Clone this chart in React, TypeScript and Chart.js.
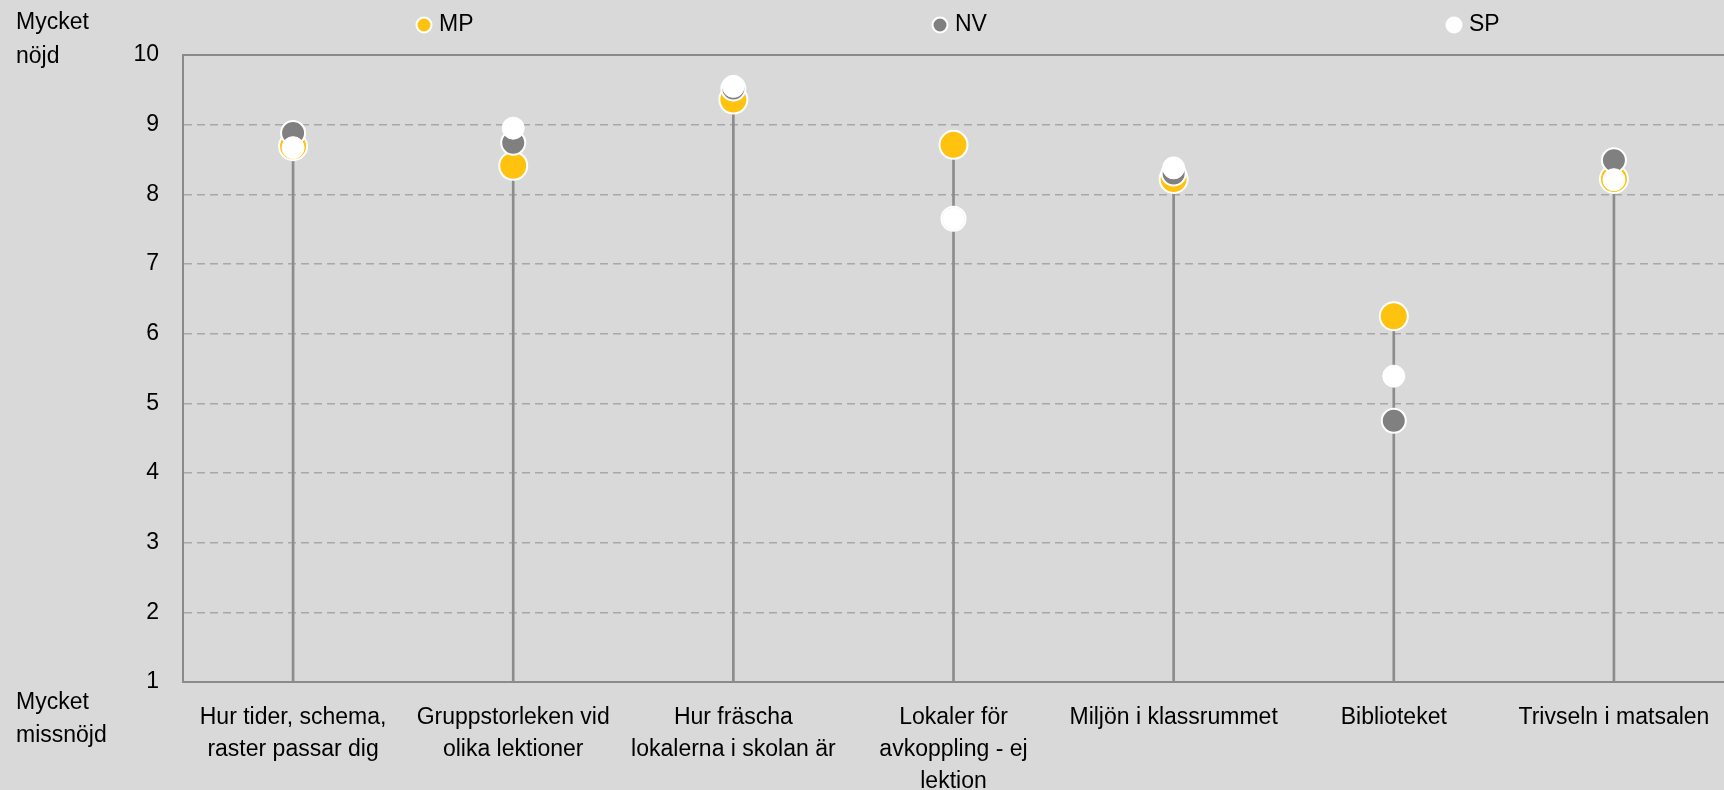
import React, { useEffect, useRef } from 'react';
import { Chart, registerables } from 'chart.js';

Chart.register(...registerables);

// ---- Data ----
const categories: string[][] = [
  ['Hur tider, schema,', 'raster passar dig'],
  ['Gruppstorleken vid', 'olika lektioner'],
  ['Hur fräscha', 'lokalerna i skolan är'],
  ['Lokaler för', 'avkoppling - ej', 'lektion'],
  ['Miljön i klassrummet'],
  ['Biblioteket'],
  ['Trivseln i matsalen'],
];
const seriesNames = ['MP', 'NV', 'SP'];
const mpValues = [8.69, 8.41, 9.36, 8.71, 8.22, 6.25, 8.22];
const nvValues = [8.88, 8.74, 9.52, 7.65, 8.30, 4.75, 8.49];
const spValues = [8.67, 8.95, 9.55, 7.65, 8.38, 5.39, 8.21];
const yMin = 1;
const yMax = 10;
const topAxisNote = ['Mycket', 'nöjd'];
const bottomAxisNote = ['Mycket', 'missnöjd'];

// ---- Styles ----
const FONT = '"Liberation Sans", Arial, sans-serif';
const FONT_SIZE = 23;
const COLORS = { MP: '#ffc20e', NV: '#808080', SP: '#ffffff' };
const BG = '#d9d9d9';
const AXIS_COLOR = '#8a8a8a';
const GRID_COLOR = '#a8a8a8';
const STEM_COLOR = '#8c8c8c';
const LEGEND_X = [424, 940, 1454];
const LEGEND_Y = 25;

const decorPlugin = {
  id: 'decor',
  beforeDatasetsDraw(chart: any) {
    const { ctx, chartArea } = chart;
    ctx.save();
    ctx.strokeStyle = AXIS_COLOR;
    ctx.lineWidth = 2;
    ctx.beginPath();
    ctx.moveTo(chartArea.left, chartArea.top);
    ctx.lineTo(chart.width, chartArea.top);
    ctx.stroke();
    ctx.restore();
  },
  afterDraw(chart: any) {
    const { ctx } = chart;
    ctx.save();
    ctx.font = `${FONT_SIZE}px ${FONT}`;
    ctx.fillStyle = '#000';
    ctx.textAlign = 'left';
    ctx.textBaseline = 'alphabetic';
    ctx.fillText(topAxisNote[0], 16, 29);
    ctx.fillText(topAxisNote[1], 16, 63);
    ctx.fillText(bottomAxisNote[0], 16, 709);
    ctx.fillText(bottomAxisNote[1], 16, 742);

    // legend
    const cols = [COLORS.MP, COLORS.NV, COLORS.SP];
    seriesNames.forEach((name, i) => {
      const x = LEGEND_X[i];
      ctx.beginPath();
      ctx.arc(x, LEGEND_Y, 7.5, 0, Math.PI * 2);
      ctx.fillStyle = cols[i];
      ctx.fill();
      ctx.lineWidth = 2;
      ctx.strokeStyle = '#ffffff';
      ctx.stroke();
      ctx.fillStyle = '#000';
      ctx.textBaseline = 'middle';
      ctx.fillText(name, x + 15, LEGEND_Y);
    });
    ctx.restore();
  },
};

export default function App() {
  const canvasRef = useRef<HTMLCanvasElement | null>(null);

  useEffect(() => {
    if (!canvasRef.current) return;
    const stems = categories.map((_, i) => [yMin, Math.max(mpValues[i], nvValues[i], spValues[i])]);
    const chart = new Chart(canvasRef.current, {
      type: 'bar',
      data: {
        labels: categories,
        datasets: [
          {
            type: 'line',
            label: seriesNames[2],
            data: spValues,
            showLine: false,
            pointRadius: 11,
            pointHoverRadius: 11,
            pointBorderWidth: 1,
            pointBackgroundColor: COLORS.SP,
            pointBorderColor: '#ffffff',
            clip: false,
            order: 0,
          } as any,
          {
            type: 'line',
            label: seriesNames[1],
            data: nvValues,
            showLine: false,
            pointRadius: 12,
            pointHoverRadius: 12,
            pointBorderWidth: 2,
            pointBackgroundColor: COLORS.NV,
            pointBorderColor: '#ffffff',
            clip: false,
            order: 1,
          } as any,
          {
            type: 'line',
            label: seriesNames[0],
            data: mpValues,
            showLine: false,
            pointRadius: 14,
            pointHoverRadius: 14,
            pointBorderWidth: 2,
            pointBackgroundColor: COLORS.MP,
            pointBorderColor: '#ffffff',
            clip: false,
            order: 2,
          } as any,
          {
            type: 'bar',
            label: 'stem',
            data: stems as any,
            backgroundColor: STEM_COLOR,
            borderWidth: 0,
            barThickness: 2,
            order: 3,
          } as any,
        ],
      },
      options: {
        animation: false,
        responsive: true,
        maintainAspectRatio: false,
        layout: { autoPadding: false, padding: { top: 55, right: -3, left: 0, bottom: 0 } },
        plugins: {
          legend: { display: false },
          tooltip: { enabled: false },
        },
        font: { family: FONT, size: FONT_SIZE },
        scales: {
          x: {
            type: 'category',
            offset: true,
            grid: { display: false, drawTicks: false },
            border: { display: true, color: AXIS_COLOR, width: 2 },
            ticks: {
              autoSkip: false,
              maxRotation: 0,
              minRotation: 0,
              padding: 20,
              color: '#000',
              font: { family: FONT, size: FONT_SIZE, lineHeight: 32 / FONT_SIZE },
            },
            afterFit: (scale: any) => {
              scale.height = 108;
              scale.paddingLeft = 0;
              scale.paddingRight = 0;
            },
          },
          y: {
            min: yMin,
            max: yMax,
            grid: {
              drawTicks: false,
              lineWidth: 1.5,
              color: (ctx: any) =>
                ctx.tick && (ctx.tick.value === yMin || ctx.tick.value === yMax) ? 'rgba(0,0,0,0)' : GRID_COLOR,
            },
            border: { display: true, color: AXIS_COLOR, width: 2, dash: [8, 5] },
            ticks: {
              stepSize: 1,
              padding: 24,
              color: '#000',
              font: { family: FONT, size: FONT_SIZE },
            },
            afterFit: (scale: any) => {
              scale.width = 183;
              scale.paddingTop = 0;
              scale.paddingBottom = 0;
            },
          },
        },
      } as any,
      plugins: [decorPlugin],
    });
    return () => chart.destroy();
  }, []);

  return (
    <div
      style={{
        position: 'fixed',
        left: 0,
        top: 0,
        width: 1724,
        height: 790,
        background: BG,
      }}
    >
      <canvas ref={canvasRef} />
    </div>
  );
}
